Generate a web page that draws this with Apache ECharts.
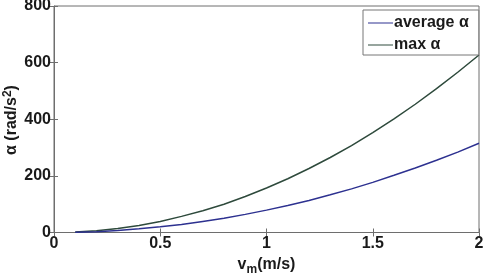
<!DOCTYPE html>
<html><head><meta charset="utf-8">
<script src="https://cdn.jsdelivr.net/npm/echarts@6/dist/echarts.min.js"></script>
<style>html,body{margin:0;padding:0;background:#fff}#c{width:486px;height:275px}</style>
</head><body><div id="c"></div>
<script>
var vm = [0.1,0.2,0.3,0.4,0.5,0.6,0.7,0.8,0.9,1.0,1.1,1.2,1.3,1.4,1.5,1.6,1.7,1.8,1.9,2.0];
var avgAlpha = [1,3,7,13,20,28,39,50,64,79,95,113,133,154,177,202,228,255,284,315];
var maxAlpha = [2,6,14,25,39,57,77,100,127,157,190,226,265,307,353,401,453,508,566,627];
var xTicks = [0,0.5,1,1.5,2];
var yTicks = [0,200,400,600,800];

var chart = echarts.init(document.getElementById('c'));
var font = 'Liberation Sans, Arial, sans-serif';
var axisCol = '#6e6e6e';
var txtCol = '#1a1a1a';
var avgCol = '#2d3190', maxCol = '#2e4a3c';
function pairs(xs, ys){ return xs.map(function(x,i){return [x, ys[i]];}); }
var labelStyle = {color:txtCol, fontSize:16, fontWeight:'bold', fontFamily:font};
chart.setOption({
  animation:false,
  grid:{left:54, right:7, top:6, bottom:42.5, show:true, borderColor:axisCol, borderWidth:1, containLabel:false, outerBoundsMode:'none'},
  xAxis:[{
    type:'value', min:0, max:2, interval:0.5,
    axisLine:{show:true, onZero:false, lineStyle:{color:axisCol}},
    axisTick:{inside:true, length:4, lineStyle:{color:axisCol}},
    splitLine:{show:false},
    axisLabel:Object.assign({margin:3, formatter:function(v){return String(v);}}, labelStyle),
    name:'{v|v}{s|m}{v|(m/s)}', nameLocation:'middle', nameGap:19,
    nameTextStyle:{rich:{v:{fontSize:16,fontWeight:'bold',fontFamily:font,color:txtCol},s:{fontSize:12,fontWeight:'bold',fontFamily:font,color:txtCol,verticalAlign:'bottom',padding:[10,0,0,0]}}}
  },{
    type:'value', position:'top', min:0, max:2, interval:0.5,
    axisLine:{show:false}, axisTick:{inside:true, length:4, lineStyle:{color:axisCol}},
    axisLabel:{show:false}, splitLine:{show:false}
  }],
  yAxis:[{
    type:'value', min:0, max:800, interval:200,
    axisLine:{show:true, lineStyle:{color:axisCol}},
    axisTick:{inside:true, length:4, lineStyle:{color:axisCol}},
    splitLine:{show:false},
    axisLabel:Object.assign({margin:3}, labelStyle)
  },{
    type:'value', position:'right', min:0, max:800, interval:200,
    axisLine:{show:false}, axisTick:{inside:true, length:4, lineStyle:{color:axisCol}},
    axisLabel:{show:false}, splitLine:{show:false}
  }],
  graphic:[{
    type:'text', x:12, y:120, rotation:Math.PI/2,
    style:{
      text:'{a|α (rad/s}{s|2}{a|)}', align:'center', verticalAlign:'middle',
      rich:{a:{fontSize:16,fontWeight:'bold',fontFamily:font,fill:txtCol,color:txtCol},s:{fontSize:12,fontWeight:'bold',fontFamily:font,fill:txtCol,color:txtCol,verticalAlign:'top',padding:[0,0,8,0]}}
    }
  }],
  legend:{
    left:363, top:10, width:114, orient:'vertical', itemGap:6,
    padding:[5,10,2,5], backgroundColor:'#fff', borderColor:'#777', borderWidth:1,
    itemWidth:25, itemHeight:16, icon:'path://M0,7.5 L25,7.5 L25,8.5 L0,8.5 Z',
    textStyle:{fontSize:16, fontWeight:'bold', fontFamily:font, color:txtCol, padding:[0,0,0,-4]},
    data:[{name:'average α', itemStyle:{color:avgCol}}, {name:'max α', itemStyle:{color:maxCol}}]
  },
  series:[
    {name:'average α', type:'line', data:pairs(vm, avgAlpha), showSymbol:false, lineStyle:{color:avgCol, width:1.5}, itemStyle:{color:avgCol}, z:3},
    {name:'max α', type:'line', data:pairs(vm, maxAlpha), showSymbol:false, lineStyle:{color:maxCol, width:1.5}, itemStyle:{color:maxCol}, z:2}
  ]
});
</script></body></html>
